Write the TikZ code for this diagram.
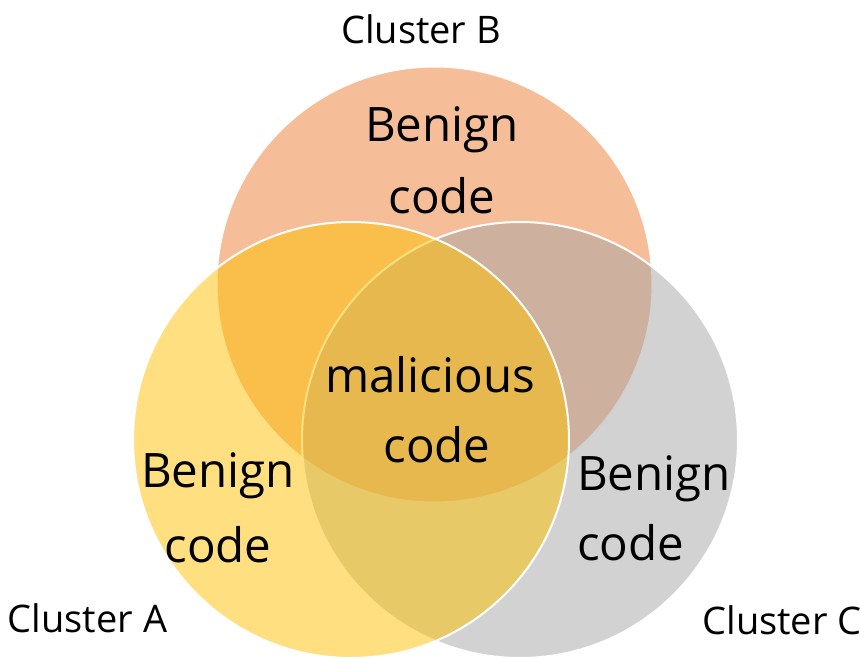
\documentclass[tikz,border=0pt]{standalone}
\usepackage{fontspec}
\setmainfont{Open Sans}
\usetikzlibrary{positioning}

% set colours, drawn half transparent
\definecolor{clusterA}{HTML}{FFC000}
\definecolor{clusterB}{HTML}{ED7D31}
\definecolor{clusterC}{HTML}{A5A5A5}

\tikzset{
    venn/.style={circle, draw=white, line width=2pt, fill opacity=0.5,
        minimum size=436pt, inner sep=0pt},
    bigtext/.style={font=\fontsize{47.5}{57}\selectfont, inner sep=0pt, anchor=base},
    smalltext/.style={font=\fontsize{38}{46}\selectfont, inner sep=0pt, anchor=base}}

\begin{document}
\begin{tikzpicture}[x=1pt, y=-1pt]

        \useasboundingbox (0,0) rectangle (860,659);

        % B first, then C, A on top
        \node[venn, fill=clusterB] (B) at (434.5,284.5) {};
        \node[venn, fill=clusterC] (C) at (520,440) {};
        \node[venn, fill=clusterA] (A) at (351,440) {};

        \node[smalltext] (nameB) at (421,43) {Cluster B};
        \node[smalltext] (nameA) at (87.5,632) {Cluster A};
        \node[smalltext] (nameC) at (782,634) {Cluster C};

        \node[bigtext] (benignB) at (442,141) {Benign};
        \node[bigtext] (codeB) at ([yshift=-72pt]benignB.base) {code};

        \node[bigtext] (benignA) at (218,487) {Benign};
        \node[bigtext] (codeA) at ([yshift=-75pt]benignA.base) {code};

        \node[bigtext, anchor=base west] (benignC) at (577,490) {Benign};
        \node[bigtext, anchor=base west] (codeC) at ([yshift=-70pt]benignC.base west) {code};

        \node[bigtext] (malicious) at (430,392) {malicious};
        \node[bigtext] (codeAll) at (437,462) {code};

\end{tikzpicture}
\end{document}
